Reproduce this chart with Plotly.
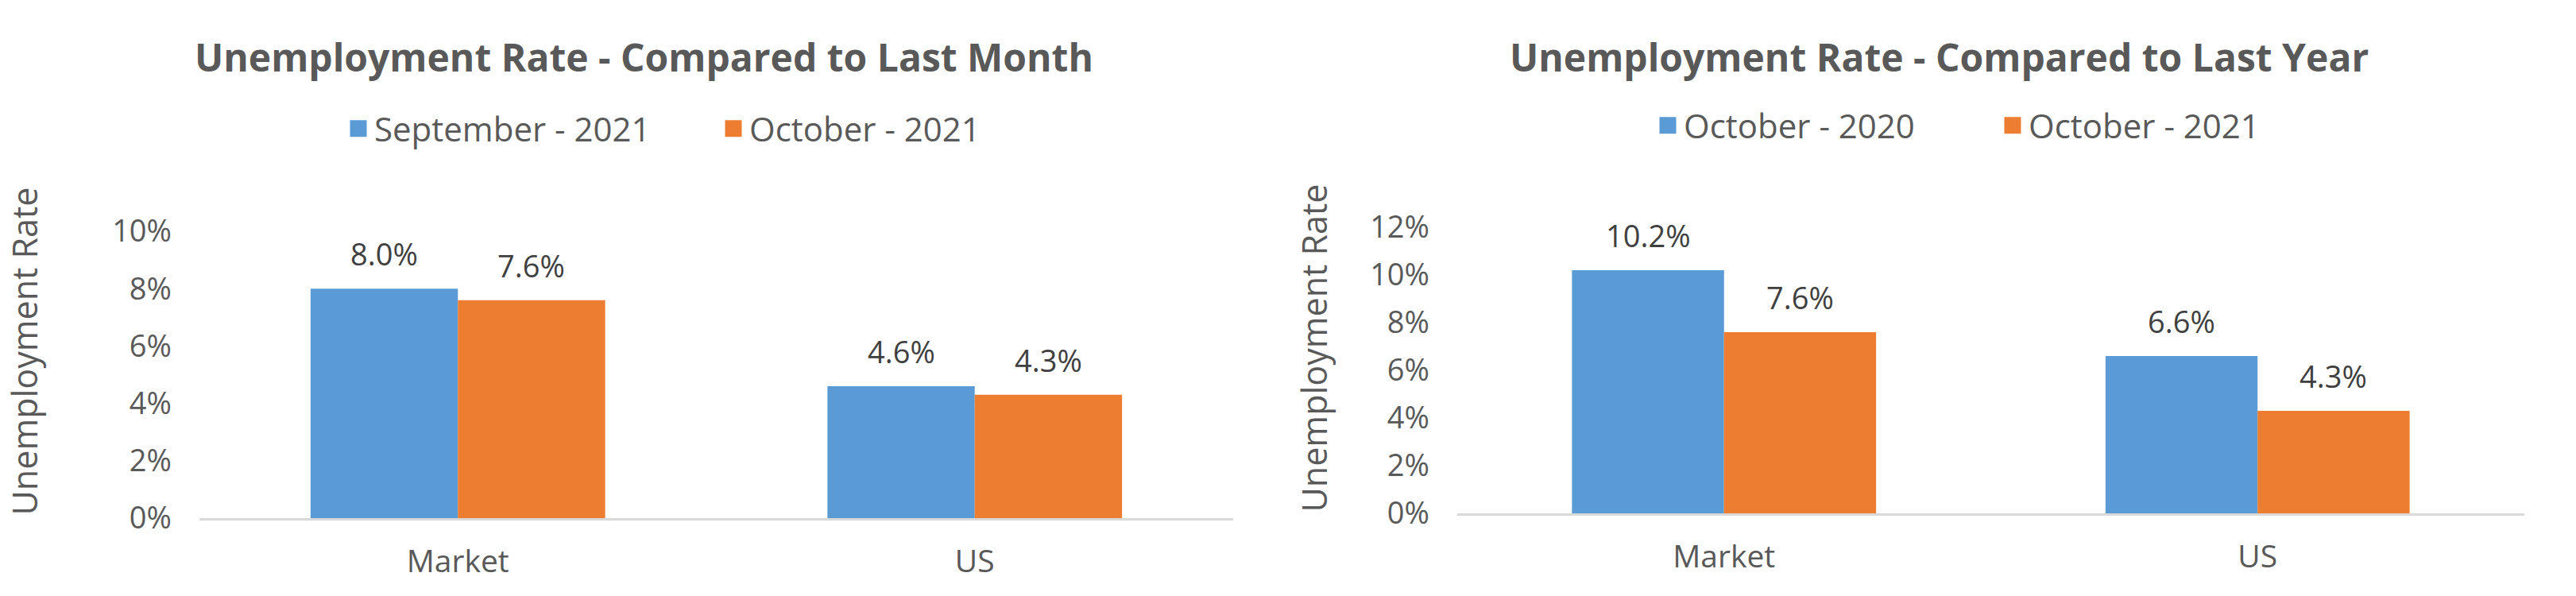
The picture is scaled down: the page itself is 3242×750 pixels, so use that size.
import plotly.graph_objects as go

categories = ["Market", "US"]

# Left chart: compared to last month
month_names = ["September - 2021", "October - 2021"]
month_prev = [0.080, 0.046]
month_curr = [0.076, 0.043]

# Right chart: compared to last year
year_names = ["October - 2020", "October - 2021"]
year_prev = [0.102, 0.066]
year_curr = [0.076, 0.043]

titles = ["Unemployment Rate - Compared to Last Month",
          "Unemployment Rate - Compared to Last Year"]
axis_title = "Unemployment Rate"
month_ticks = [0, 0.02, 0.04, 0.06, 0.08, 0.10]
year_ticks = [0, 0.02, 0.04, 0.06, 0.08, 0.10, 0.12]

BLUE = "#5B9BD5"
ORANGE = "#ED7D31"
GRAY = "#595959"
DARK = "#404040"
FONT = "Open Sans"
W, H = 3242, 750

BARGAP = 0.43
bar_w = (1 - BARGAP) / 2

fig = go.Figure()

def add_chart(xa, ya, legend, names, prev, curr):
    for name, vals, color in ((names[0], prev, BLUE), (names[1], curr, ORANGE)):
        fig.add_trace(go.Bar(
            x=categories, y=vals, name=name, marker_color=color,
            marker_line_width=0, xaxis=xa, yaxis=ya, showlegend=False,
            hoverinfo="skip",
        ))
        # legend entry with larger square symbol
        fig.add_trace(go.Scatter(
            x=[None], y=[None], mode="markers", name=name,
            marker=dict(symbol="square", size=16, color=color,
                        line=dict(color=color, width=5)),
            xaxis=xa, yaxis=ya, legend=legend, showlegend=True,
        ))
    for k, vals in enumerate((prev, curr)):
        for i, v in enumerate(vals):
            fig.add_annotation(
                x=i + (k - 0.5) * bar_w, y=v, xref=xa, yref=ya,
                text=f"{v*100:.1f}%", showarrow=False, yanchor="middle",
                yshift=44, font=dict(family=FONT, size=38, color=DARK),
            )

add_chart("x", "y", "legend", month_names, month_prev, month_curr)
add_chart("x2", "y2", "legend2", year_names, year_prev, year_curr)

xcommon = dict(showline=True, linecolor="#D9D9D9", linewidth=3, showgrid=False,
               zeroline=False, ticks="", ticklabelstandoff=18, automargin=False,
               tickfont=dict(family=FONT, size=39, color=GRAY), fixedrange=True)
ycommon = dict(showline=False, showgrid=False, zeroline=False, ticks="",
               tickformat=".0%", tickmode="array", ticklabelstandoff=34,
               automargin=False,
               tickfont=dict(family=FONT, size=38, color=GRAY), fixedrange=True)

# left: 0% at y=652px, 36.1 px per 1%; right: 0% at y=646px, 30 px per 1%
L0, LPX = 652, 36.1
R0, RPX = 646, 30.0
L_TOP, R_TOP = 232, 230

fig.update_layout(
    width=W, height=H,
    margin=dict(l=0, r=0, t=0, b=0, autoexpand=False),
    paper_bgcolor="white", plot_bgcolor="white",
    barmode="group", bargap=BARGAP, bargroupgap=0,
    font=dict(family=FONT, color=GRAY),
    xaxis=dict(domain=[251 / W, 1552 / W], anchor="y", **xcommon),
    yaxis=dict(domain=[(H - L0) / H, (H - L_TOP) / H], anchor="x",
               range=[0, (L0 - L_TOP) / LPX / 100], tickvals=month_ticks,
               title=dict(text=axis_title, standoff=80,
                          font=dict(family=FONT, size=43, color=GRAY)),
               **ycommon),
    xaxis2=dict(domain=[1834 / W, 3177 / W], anchor="y2", **xcommon),
    yaxis2=dict(domain=[(H - R0) / H, (H - R_TOP) / H], anchor="x2",
                range=[0, (R0 - R_TOP) / RPX / 100], tickvals=year_ticks,
                title=dict(text=axis_title, standoff=40,
                           font=dict(family=FONT, size=43, color=GRAY)),
                **ycommon),
    legend=dict(orientation="h", x=431 / W, xanchor="left", y=1 - 162 / H,
                yanchor="middle", font=dict(family=FONT, size=42, color=GRAY),
                entrywidth=427, bgcolor="rgba(0,0,0,0)"),
    legend2=dict(orientation="h", x=2079 / W, xanchor="left", y=1 - 158 / H,
                 yanchor="middle", font=dict(family=FONT, size=42, color=GRAY),
                 entrywidth=389, bgcolor="rgba(0,0,0,0)"),
)

for t, xc, yc in ((titles[0], 810, 72), (titles[1], 2440, 71)):
    fig.add_annotation(
        text=f"<b>{t}</b>", xref="paper", yref="paper", x=xc / W, y=1 - yc / H,
        xanchor="center", yanchor="middle", showarrow=False,
        font=dict(family=FONT, size=48, color=GRAY),
    )

fig.write_html("out.html")
